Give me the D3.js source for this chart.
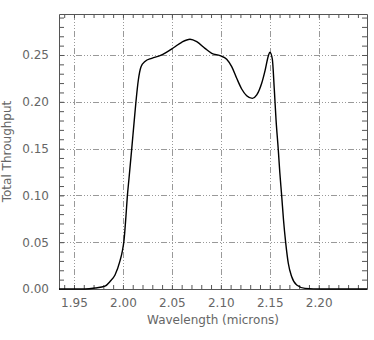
<!DOCTYPE html>
<html>
<head>
<meta charset="utf-8">
<script src="https://cdn.jsdelivr.net/npm/d3@7"></script>
<style>
  body { margin: 0; background: #fff; }
  text { font-family: "DejaVu Sans", sans-serif; fill: #666; }
</style>
</head>
<body>
<div id="chart"></div>
<script>
// Filter curve
var wavelength = [1.9347, 1.9612, 1.9715, 1.9817, 1.9868, 1.9919, 1.9970, 1.9993, 2.0011, 2.0031,
  2.0045, 2.0062, 2.0090, 2.0113, 2.0133, 2.0157, 2.0185, 2.0225, 2.0294, 2.0396,
  2.0430, 2.0520, 2.0600, 2.0685, 2.0754, 2.0838, 2.0907, 2.0992, 2.1060, 2.1111,
  2.1162, 2.1213, 2.1264, 2.1322, 2.1367, 2.1418, 2.1451, 2.1485, 2.1502, 2.1526,
  2.1546, 2.1564, 2.1587, 2.1602, 2.1622, 2.1640, 2.1663, 2.1689, 2.1724, 2.1775,
  2.1860, 2.2031, 2.2493];
var throughput = [0.000, 0.000, 0.001, 0.003, 0.008, 0.015, 0.030, 0.040, 0.052, 0.078,
  0.099, 0.118, 0.150, 0.177, 0.200, 0.223, 0.2375, 0.243, 0.2465, 0.250,
  0.2520, 0.2580, 0.2636, 0.2668, 0.2642, 0.2571, 0.2518, 0.2493, 0.2454, 0.2375,
  0.2251, 0.2137, 0.2065, 0.2037, 0.2073, 0.2200, 0.2330, 0.2490, 0.2530, 0.2455,
  0.2135, 0.1806, 0.1485, 0.125, 0.099, 0.074, 0.049, 0.0275, 0.0131, 0.0043,
  0.0007, 0.000, 0.000];

var xTicks = [1.95, 2.00, 2.05, 2.10, 2.15, 2.20];
var yTicks = [0.00, 0.05, 0.10, 0.15, 0.20, 0.25];

var svgWidth = 374;
var svgHeight = 340;
var margin = { top: 14, right: 7, bottom: 51, left: 59 };
var chartWidth = svgWidth - margin.left - margin.right;
var chartHeight = svgHeight - margin.top - margin.bottom;

var svg = d3.select("#chart")
  .append("svg")
  .attr("width", svgWidth)
  .attr("height", svgHeight);

var chartGroup = svg.append("g")
  .attr("transform", `translate(${margin.left}, ${margin.top})`);

var xScale = d3.scaleLinear()
  .domain([1.9347, 2.2493])
  .range([0, chartWidth]);

var yScale = d3.scaleLinear()
  .domain([0, 0.2938])
  .range([chartHeight, 0]);

// minor tick positions every 0.01
var xMinor = d3.range(194, 225).map(d => d / 100);
var yMinor = d3.range(0, 30).map(d => d / 100);

// grid lines
var gridDash = "6,2,1,2,1,2,1,2";
chartGroup.selectAll(".vgrid")
  .data(xTicks)
  .enter()
  .append("line")
  .attr("x1", d => Math.round(xScale(d)) + 0.5)
  .attr("x2", d => Math.round(xScale(d)) + 0.5)
  .attr("y1", 0)
  .attr("y2", chartHeight)
  .attr("stroke", "#999")
  .attr("stroke-dasharray", gridDash);

chartGroup.selectAll(".hgrid")
  .data(yTicks.filter(d => d > 0))
  .enter()
  .append("line")
  .attr("x1", 0)
  .attr("x2", chartWidth)
  .attr("y1", d => Math.round(yScale(d)) + 0.5)
  .attr("y2", d => Math.round(yScale(d)) + 0.5)
  .attr("stroke", "#999")
  .attr("stroke-dasharray", gridDash);

// axes with ticks on all four sides
function styleAxis(g) {
  g.select(".domain").attr("stroke", "#555");
  g.selectAll(".tick line").attr("stroke", "#555");
  g.selectAll(".tick text").attr("font-size", "12px").attr("fill", "#666")
    .attr("font-family", "DejaVu Sans, sans-serif");
}

chartGroup.append("g")
  .attr("transform", `translate(0, ${chartHeight})`)
  .call(d3.axisBottom(xScale).tickValues(xMinor).tickSizeInner(-4).tickSizeOuter(0)
    .tickPadding(9).tickFormat(d => xTicks.some(t => Math.abs(t - d) < 1e-6) ? d3.format(".2f")(d) : ""))
  .call(styleAxis);

chartGroup.append("g")
  .call(d3.axisTop(xScale).tickValues(xMinor).tickSizeInner(-4).tickSizeOuter(0).tickFormat(""))
  .call(styleAxis);

chartGroup.append("g")
  .call(d3.axisLeft(yScale).tickValues(yMinor).tickSizeInner(-5).tickSizeOuter(0)
    .tickPadding(10).tickFormat(d => yTicks.some(t => Math.abs(t - d) < 1e-6) ? d3.format(".2f")(d) : ""))
  .call(styleAxis);

chartGroup.append("g")
  .attr("transform", `translate(${chartWidth}, 0)`)
  .call(d3.axisRight(yScale).tickValues(yMinor).tickSizeInner(-5).tickSizeOuter(0).tickFormat(""))
  .call(styleAxis);

// the throughput curve
var curveData = wavelength.map((w, i) => ({ w: w, t: throughput[i] }));
var drawLine = d3.line()
  .x(d => xScale(d.w))
  .y(d => yScale(d.t))
  .curve(d3.curveMonotoneX);

chartGroup.append("path")
  .attr("d", drawLine(curveData))
  .attr("fill", "none")
  .attr("stroke", "#000")
  .attr("stroke-width", 1.4);

// axis labels
chartGroup.append("text")
  .attr("x", chartWidth / 2)
  .attr("y", chartHeight + 35)
  .attr("text-anchor", "middle")
  .attr("font-size", "12px")
  .text("Wavelength (microns)");

chartGroup.append("text")
  .attr("transform", `translate(${-48}, ${chartHeight / 2}) rotate(-90)`)
  .attr("text-anchor", "middle")
  .attr("font-size", "12px")
  .text("Total Throughput");
</script>
</body>
</html>
